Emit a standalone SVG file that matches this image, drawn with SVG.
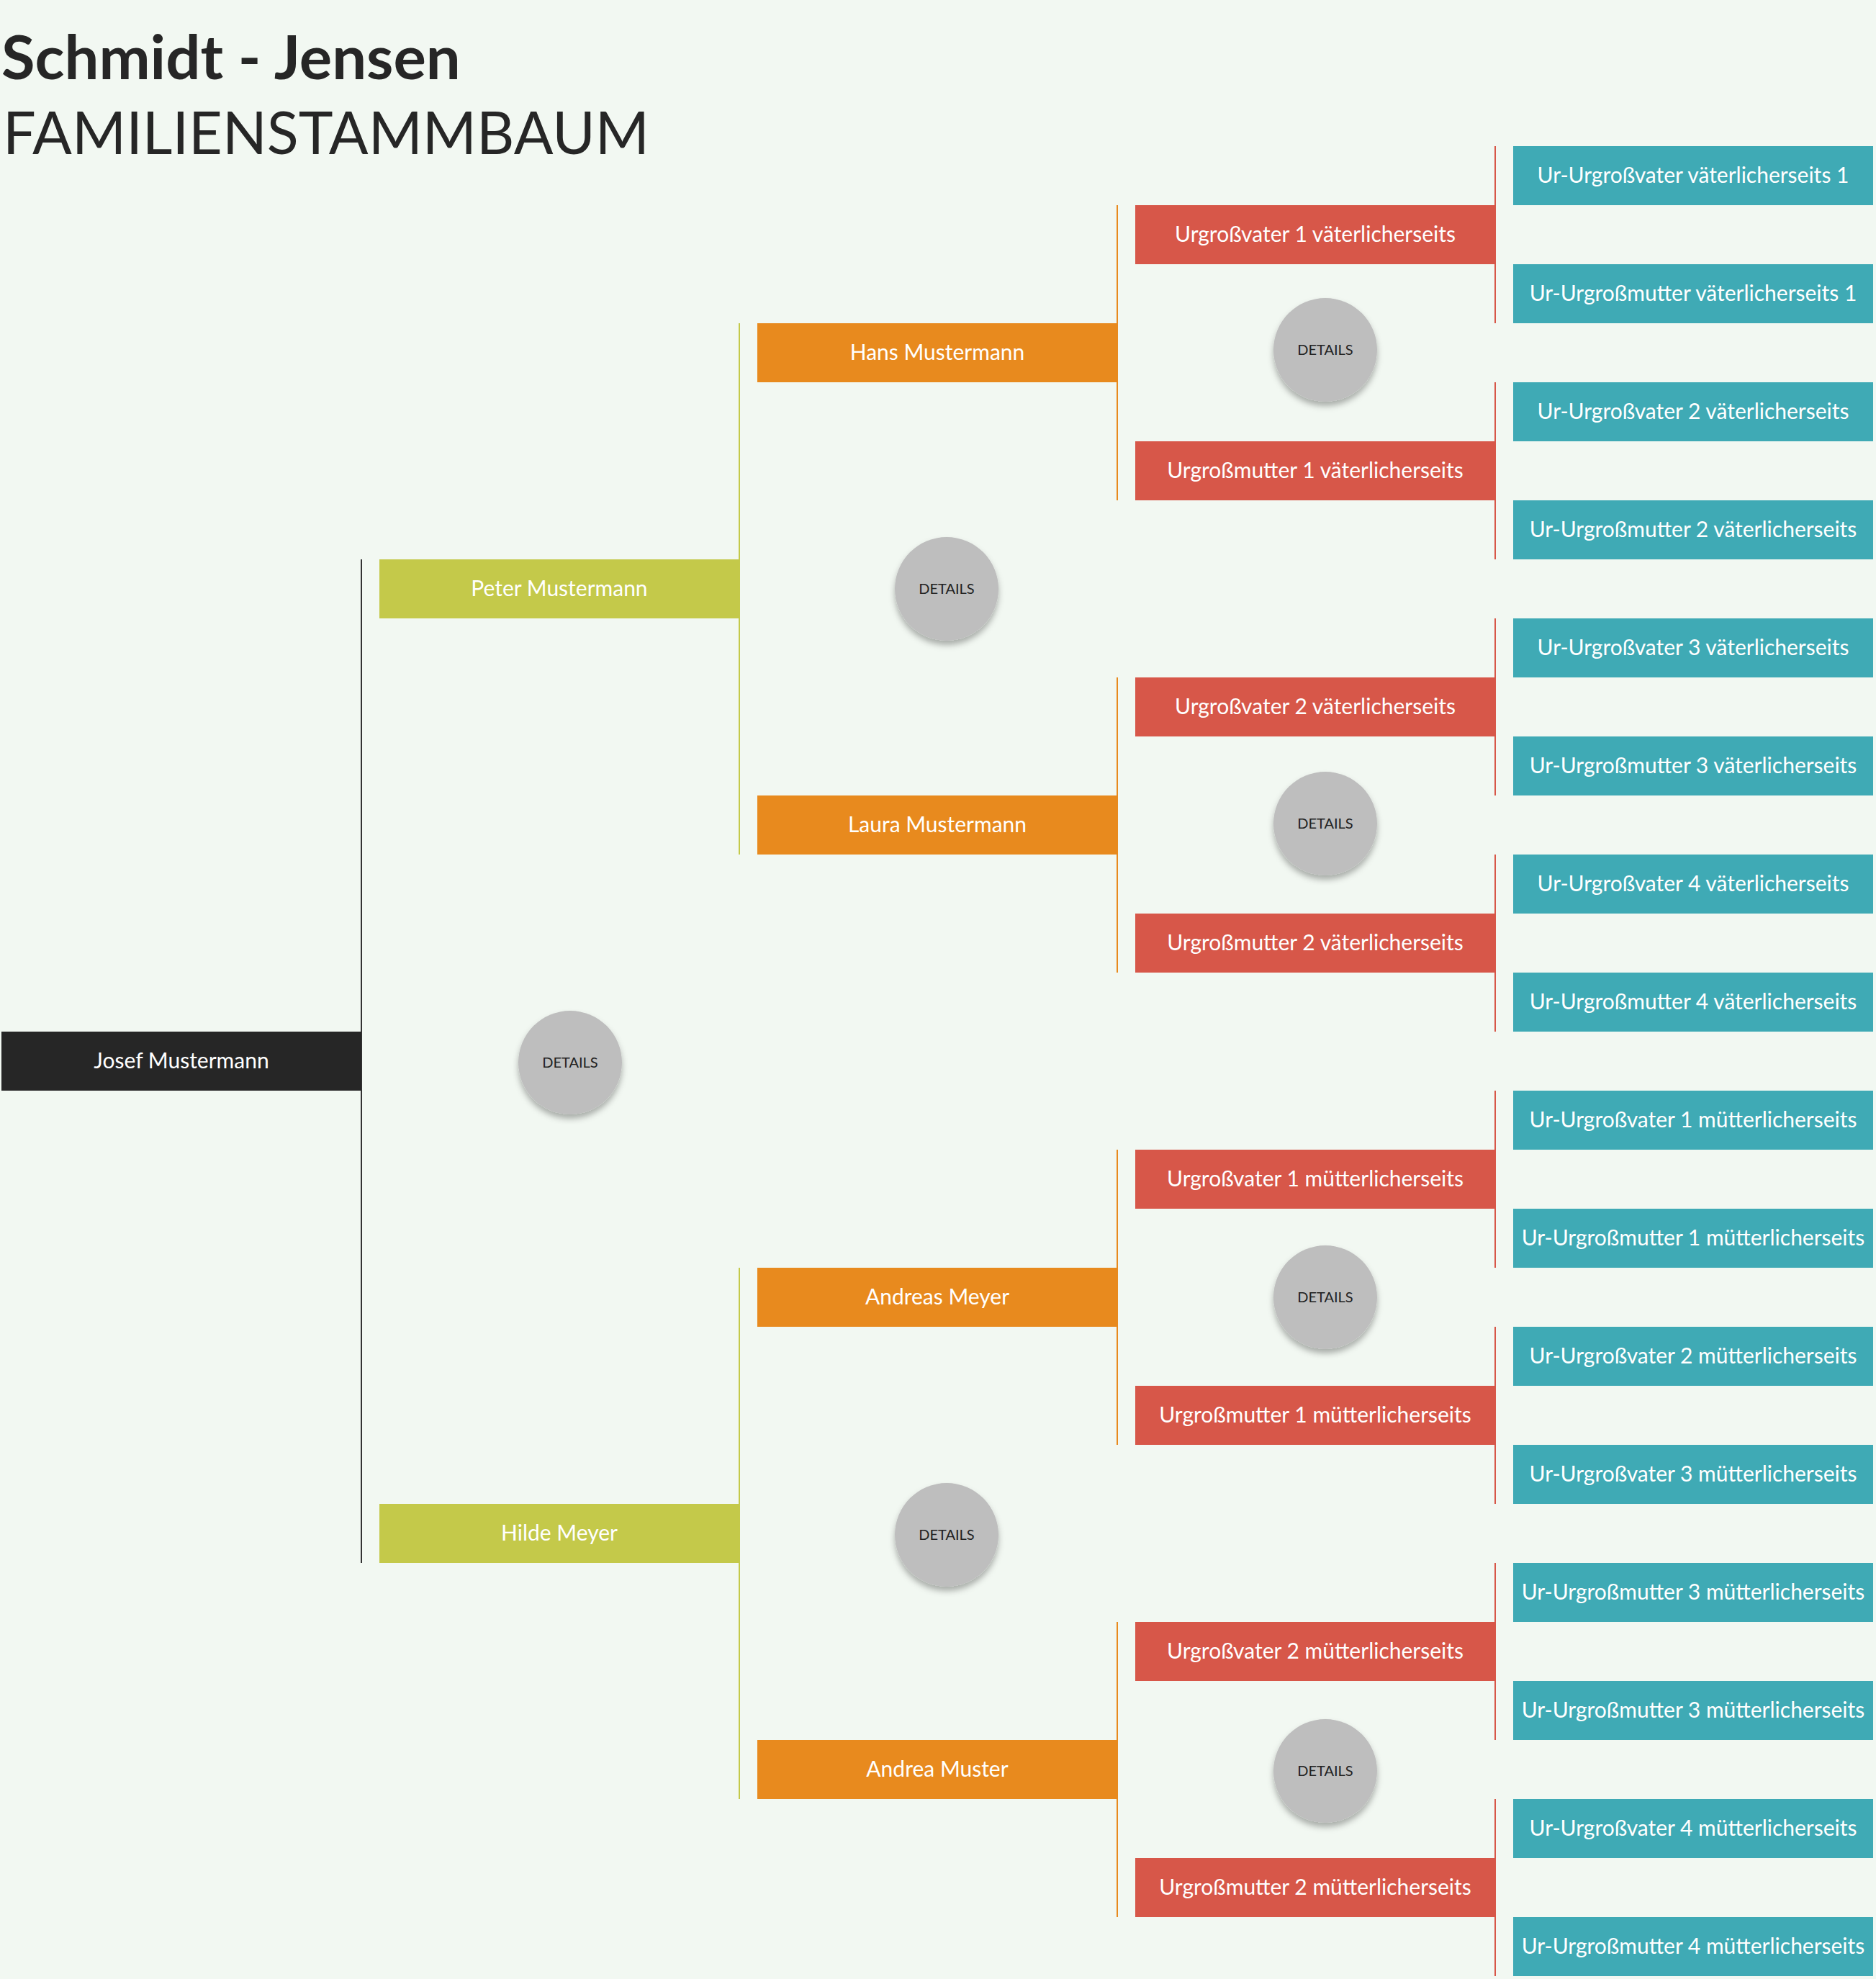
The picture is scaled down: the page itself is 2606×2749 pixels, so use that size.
<svg xmlns="http://www.w3.org/2000/svg" width="2606" height="2749" viewBox="0 0 2606 2749">
<defs>
<style>
.bg{fill:#f2f8f2}
.k{fill:#262626}
.o{fill:#c4c94a}
.g{fill:#e88a1e}
.r{fill:#d75749}
.t{fill:#3faab5}
.lbl{font-family:Lato,"Liberation Sans",sans-serif;font-size:30px;fill:#ffffff;text-anchor:middle}
.det{fill:#bebebe}
.dt{font-family:Lato,"Liberation Sans",sans-serif;font-size:20px;fill:#222222;text-anchor:middle}
.ln{stroke-width:2;fill:none}
</style>
<filter id="sh" x="-30%" y="-30%" width="160%" height="170%">
<feDropShadow dx="0" dy="6" stdDeviation="4" flood-color="#000" flood-opacity="0.3"/>
</filter>
</defs>
<rect class="bg" x="0" y="0" width="2606" height="2749"/>
<g id="title">
<text x="2" y="110" font-family="Lato,'Liberation Sans',sans-serif" font-weight="700" font-size="85" fill="#262626">Schmidt - Jensen</text>
<text x="4" y="214" font-family="Lato,'Liberation Sans',sans-serif" font-weight="400" font-size="81" fill="#262626">FAMILIENSTAMMBAUM</text>
</g>
<g id="connectors">
<line class="ln" x1="502" y1="777" x2="502" y2="2171" stroke="#333333"/>
<line class="ln" x1="1027" y1="449" x2="1027" y2="1187" stroke="#c4c94a"/>
<line class="ln" x1="1027" y1="1761" x2="1027" y2="2499" stroke="#c4c94a"/>
<line class="ln" x1="1552" y1="285" x2="1552" y2="695" stroke="#e88a1e"/>
<line class="ln" x1="1552" y1="941" x2="1552" y2="1351" stroke="#e88a1e"/>
<line class="ln" x1="1552" y1="1597" x2="1552" y2="2007" stroke="#e88a1e"/>
<line class="ln" x1="1552" y1="2253" x2="1552" y2="2663" stroke="#e88a1e"/>
<line class="ln" x1="2077" y1="203" x2="2077" y2="449" stroke="#d75749"/>
<line class="ln" x1="2077" y1="531" x2="2077" y2="777" stroke="#d75749"/>
<line class="ln" x1="2077" y1="859" x2="2077" y2="1105" stroke="#d75749"/>
<line class="ln" x1="2077" y1="1187" x2="2077" y2="1433" stroke="#d75749"/>
<line class="ln" x1="2077" y1="1515" x2="2077" y2="1761" stroke="#d75749"/>
<line class="ln" x1="2077" y1="1843" x2="2077" y2="2089" stroke="#d75749"/>
<line class="ln" x1="2077" y1="2171" x2="2077" y2="2417" stroke="#d75749"/>
<line class="ln" x1="2077" y1="2499" x2="2077" y2="2745" stroke="#d75749"/>
</g>
<g id="n-josef"><rect class="k" x="2" y="1433" width="500" height="82"/><text class="lbl" x="252" y="1484">Josef Mustermann</text></g>
<g id="n-peter"><rect class="o" x="527" y="777" width="500" height="82"/><text class="lbl" x="777" y="828">Peter Mustermann</text></g>
<g id="n-hilde"><rect class="o" x="527" y="2089" width="500" height="82"/><text class="lbl" x="777" y="2140">Hilde Meyer</text></g>
<g id="n-hans"><rect class="g" x="1052" y="449" width="500" height="82"/><text class="lbl" x="1302" y="500">Hans Mustermann</text></g>
<g id="n-laura"><rect class="g" x="1052" y="1105" width="500" height="82"/><text class="lbl" x="1302" y="1156">Laura Mustermann</text></g>
<g id="n-andreas"><rect class="g" x="1052" y="1761" width="500" height="82"/><text class="lbl" x="1302" y="1812">Andreas Meyer</text></g>
<g id="n-andrea"><rect class="g" x="1052" y="2417" width="500" height="82"/><text class="lbl" x="1302" y="2468">Andrea Muster</text></g>
<g id="n-ugv1v"><rect class="r" x="1577" y="285" width="500" height="82"/><text class="lbl" x="1827" y="336">Urgroßvater 1 väterlicherseits</text></g>
<g id="n-ugm1v"><rect class="r" x="1577" y="613" width="500" height="82"/><text class="lbl" x="1827" y="664">Urgroßmutter 1 väterlicherseits</text></g>
<g id="n-ugv2v"><rect class="r" x="1577" y="941" width="500" height="82"/><text class="lbl" x="1827" y="992">Urgroßvater 2 väterlicherseits</text></g>
<g id="n-ugm2v"><rect class="r" x="1577" y="1269" width="500" height="82"/><text class="lbl" x="1827" y="1320">Urgroßmutter 2 väterlicherseits</text></g>
<g id="n-ugv1m"><rect class="r" x="1577" y="1597" width="500" height="82"/><text class="lbl" x="1827" y="1648">Urgroßvater 1 mütterlicherseits</text></g>
<g id="n-ugm1m"><rect class="r" x="1577" y="1925" width="500" height="82"/><text class="lbl" x="1827" y="1976">Urgroßmutter 1 mütterlicherseits</text></g>
<g id="n-ugv2m"><rect class="r" x="1577" y="2253" width="500" height="82"/><text class="lbl" x="1827" y="2304">Urgroßvater 2 mütterlicherseits</text></g>
<g id="n-ugm2m"><rect class="r" x="1577" y="2581" width="500" height="82"/><text class="lbl" x="1827" y="2632">Urgroßmutter 2 mütterlicherseits</text></g>
<g id="n-uu1"><rect class="t" x="2102" y="203" width="500" height="82"/><text class="lbl" x="2352" y="254">Ur-Urgroßvater väterlicherseits 1</text></g>
<g id="n-uu2"><rect class="t" x="2102" y="367" width="500" height="82"/><text class="lbl" x="2352" y="418">Ur-Urgroßmutter väterlicherseits 1</text></g>
<g id="n-uu3"><rect class="t" x="2102" y="531" width="500" height="82"/><text class="lbl" x="2352" y="582">Ur-Urgroßvater 2 väterlicherseits</text></g>
<g id="n-uu4"><rect class="t" x="2102" y="695" width="500" height="82"/><text class="lbl" x="2352" y="746">Ur-Urgroßmutter 2 väterlicherseits</text></g>
<g id="n-uu5"><rect class="t" x="2102" y="859" width="500" height="82"/><text class="lbl" x="2352" y="910">Ur-Urgroßvater 3 väterlicherseits</text></g>
<g id="n-uu6"><rect class="t" x="2102" y="1023" width="500" height="82"/><text class="lbl" x="2352" y="1074">Ur-Urgroßmutter 3 väterlicherseits</text></g>
<g id="n-uu7"><rect class="t" x="2102" y="1187" width="500" height="82"/><text class="lbl" x="2352" y="1238">Ur-Urgroßvater 4 väterlicherseits</text></g>
<g id="n-uu8"><rect class="t" x="2102" y="1351" width="500" height="82"/><text class="lbl" x="2352" y="1402">Ur-Urgroßmutter 4 väterlicherseits</text></g>
<g id="n-uu9"><rect class="t" x="2102" y="1515" width="500" height="82"/><text class="lbl" x="2352" y="1566">Ur-Urgroßvater 1 mütterlicherseits</text></g>
<g id="n-uu10"><rect class="t" x="2102" y="1679" width="500" height="82"/><text class="lbl" x="2352" y="1730">Ur-Urgroßmutter 1 mütterlicherseits</text></g>
<g id="n-uu11"><rect class="t" x="2102" y="1843" width="500" height="82"/><text class="lbl" x="2352" y="1894">Ur-Urgroßvater 2 mütterlicherseits</text></g>
<g id="n-uu12"><rect class="t" x="2102" y="2007" width="500" height="82"/><text class="lbl" x="2352" y="2058">Ur-Urgroßvater 3 mütterlicherseits</text></g>
<g id="n-uu13"><rect class="t" x="2102" y="2171" width="500" height="82"/><text class="lbl" x="2352" y="2222">Ur-Urgroßmutter 3 mütterlicherseits</text></g>
<g id="n-uu14"><rect class="t" x="2102" y="2335" width="500" height="82"/><text class="lbl" x="2352" y="2386">Ur-Urgroßmutter 3 mütterlicherseits</text></g>
<g id="n-uu15"><rect class="t" x="2102" y="2499" width="500" height="82"/><text class="lbl" x="2352" y="2550">Ur-Urgroßvater 4 mütterlicherseits</text></g>
<g id="n-uu16"><rect class="t" x="2102" y="2663" width="500" height="82"/><text class="lbl" x="2352" y="2714">Ur-Urgroßmutter 4 mütterlicherseits</text></g>
<g id="d1"><circle class="det" cx="792" cy="1476" r="72" filter="url(#sh)"/><text class="dt" x="792" y="1483">DETAILS</text></g>
<g id="d2"><circle class="det" cx="1315" cy="818" r="72" filter="url(#sh)"/><text class="dt" x="1315" y="825">DETAILS</text></g>
<g id="d3"><circle class="det" cx="1315" cy="2132" r="72" filter="url(#sh)"/><text class="dt" x="1315" y="2139">DETAILS</text></g>
<g id="d4"><circle class="det" cx="1841" cy="486" r="72" filter="url(#sh)"/><text class="dt" x="1841" y="493">DETAILS</text></g>
<g id="d5"><circle class="det" cx="1841" cy="1144" r="72" filter="url(#sh)"/><text class="dt" x="1841" y="1151">DETAILS</text></g>
<g id="d6"><circle class="det" cx="1841" cy="1802" r="72" filter="url(#sh)"/><text class="dt" x="1841" y="1809">DETAILS</text></g>
<g id="d7"><circle class="det" cx="1841" cy="2460" r="72" filter="url(#sh)"/><text class="dt" x="1841" y="2467">DETAILS</text></g>
</svg>
